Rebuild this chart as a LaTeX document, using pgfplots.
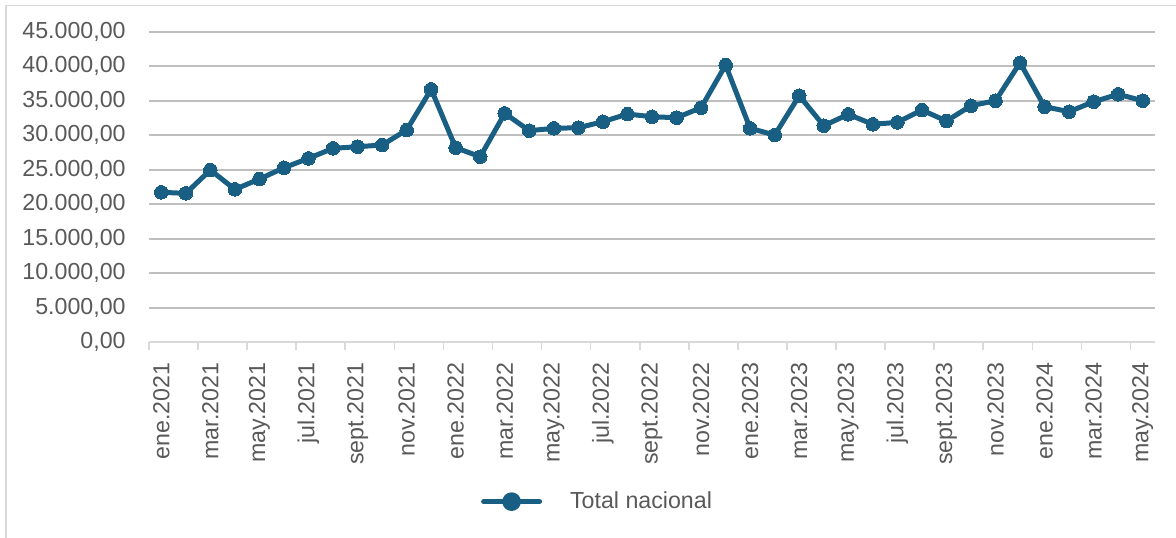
\documentclass[border=0pt]{standalone}
\usepackage{pgfplots}
\pgfplotsset{compat=1.18}
\usepackage{fontspec}
\setmainfont{Liberation Sans}
\definecolor{serie}{HTML}{195E83}
\definecolor{grid}{HTML}{D9D9D9}
\definecolor{txt}{HTML}{595959}
\pgfplotstableread{
x y
0 21730
1 21580
2 24960
3 22160
4 23650
5 25290
6 26650
7 28100
8 28340
9 28580
10 30750
11 36650
12 28190
13 26890
14 33170
15 30660
16 31000
17 31090
18 31960
19 33070
20 32680
21 32540
22 33990
23 40170
24 31000
25 30030
26 35720
27 31380
28 33030
29 31580
30 31870
31 33650
32 32060
33 34280
34 35000
35 40500
36 34130
37 33410
38 34860
39 35930
40 35000
}\datatable
\begin{document}
\begin{tikzpicture}
\useasboundingbox (0,0) rectangle (588pt,268.5pt);
\draw[grid, line width=0.8pt] (3pt,-5pt) -- (3pt,265.8pt) -- (600pt,265.8pt);
\begin{axis}[
  at={(74.5pt,97.35pt)}, anchor=south west,
  scale only axis, width=503pt, height=155.3pt,
  xmin=-0.5, xmax=40.5, ymin=0, ymax=45000,
  ytick={0,5000,...,45000},
  xtick={0,2,...,40},
  xticklabels={ene.2021,mar.2021,may.2021,jul.2021,sept.2021,nov.2021,ene.2022,mar.2022,may.2022,jul.2022,sept.2022,nov.2022,ene.2023,mar.2023,may.2023,jul.2023,sept.2023,nov.2023,ene.2024,mar.2024,may.2024},
  minor xtick={-0.5,1.5,...,39.5},
  major tick length=0pt,
  minor tick length=4pt,
  axis x line*=bottom, axis y line*=left,
  y axis line style={draw=none},
  x axis line style={grid, line width=0.9pt, -},
  xtick align=outside,
  minor x tick style={grid, line width=0.8pt},
  xmajorgrids=false, xminorgrids=false,
  ymajorgrids=true, major grid style={grid, line width=0.8pt},
  scaled y ticks=false,
  /pgf/number format/fixed,
  /pgf/number format/fixed zerofill,
  /pgf/number format/precision=2,
  /pgf/number format/use comma,
  /pgf/number format/1000 sep={.},
  /pgf/number format/assume math mode=true,
  every tick label/.append style={font=\fontsize{11.6}{13}\selectfont, text=txt, inner sep=0pt},
  yticklabel style={anchor=east, xshift=-11.5pt},
  xticklabel style={rotate=90, anchor=east, xshift=-10pt},
  legend style={draw=none, fill=none, at={(0.3297,-0.513)}, anchor=west, inner sep=0pt, font=\fontsize{11.6}{13}\selectfont, text=txt, nodes={inner sep=0pt}, /tikz/every odd column/.append style={column sep=14pt}},
  legend image code/.code={
    \draw[serie, line width=2.5pt, line cap=round] (0pt,0pt) -- (28pt,0pt);
    \fill[serie] (14pt,0pt) circle (3.4pt);
  },
]
\addplot[serie, line width=2.5pt, line join=round, mark=*, mark size=3.4pt, mark options={fill=serie, draw=serie, line width=0pt}] table[x=x, y=y] {\datatable};
\addlegendentry{Total nacional}
\end{axis}
\end{tikzpicture}
\end{document}
